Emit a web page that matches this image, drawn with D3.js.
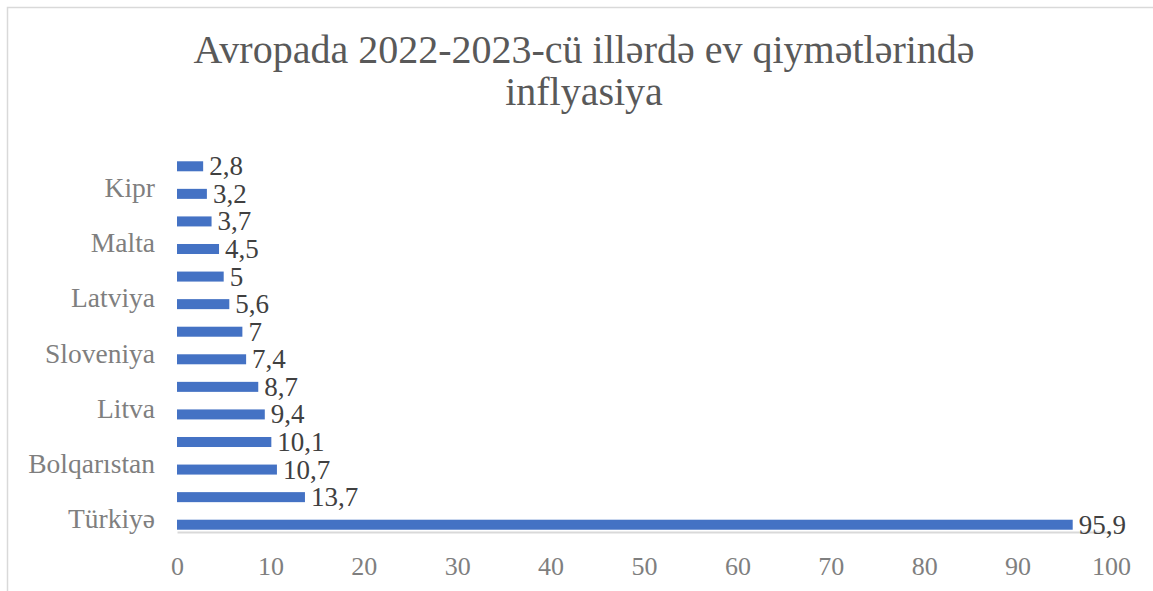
<!DOCTYPE html>
<html>
<head>
<meta charset="utf-8">
<script src="https://cdn.jsdelivr.net/npm/d3@7"></script>
<style>
  body { margin: 0; background: #fff; }
  text { font-family: "Liberation Serif", "Times New Roman", serif; }
</style>
</head>
<body>
<div id="chart"></div>
<script>
// Data (top of the chart to bottom)
const countries = ["Fransa", "Kipr", "Slovakiya", "Malta", "Yunanıstan", "Latviya", "Polşa",
  "Sloveniya", "Portuqaliya", "Litva", "Xorvatiya", "Bolqarıstan", "Macarıstan", "Türkiyə"];
const values = [2.8, 3.2, 3.7, 4.5, 5, 5.6, 7, 7.4, 8.7, 9.4, 10.1, 10.7, 13.7, 95.9];
// Only every other category label is shown on the axis
const shownLabels = ["Kipr", "Malta", "Latviya", "Sloveniya", "Litva", "Bolqarıstan", "Türkiyə"];
const xTicks = [0, 10, 20, 30, 40, 50, 60, 70, 80, 90, 100];
const titleLines = ["Avropada 2022-2023-cü illərdə ev qiymətlərində", "inflyasiya"];

const data = countries.map((c, i) => ({country: c, value: values[i]}));

const W = 1153, H = 591;
const svg = d3.select("#chart")
  .append("svg")
    .attr("width", W)
    .attr("height", H);

// Chart frame
svg.append("rect")
  .attr("x", 7.5).attr("y", 7.5)
  .attr("width", W + 10).attr("height", H + 10)
  .attr("fill", "#fff")
  .attr("stroke", "#d9d9d9")
  .attr("stroke-width", 1.5);

// Title
svg.append("text")
  .attr("text-anchor", "middle")
  .attr("fill", "#595959")
  .style("font-size", "40px")
  .selectAll("tspan")
  .data(titleLines)
  .enter()
  .append("tspan")
    .attr("x", 584)
    .attr("y", (d, i) => 63 + i * 42)
    .text(d => d);

// Scales
const x = d3.scaleLinear()
  .domain([0, 100])
  .range([177, 1111]);

const y = d3.scaleBand()
  .domain(countries)
  .range([152.5, 538.5])
  .paddingInner(0.637)
  .paddingOuter(0.3185);

const axisY = 532;

// X axis
const gx = svg.append("g")
  .attr("transform", `translate(0,${axisY})`)
  .call(d3.axisBottom(x).tickValues(xTicks).tickSize(0).tickFormat(d3.format("d")));
gx.select(".domain").attr("stroke", "#d9d9d9").attr("stroke-width", 2);
gx.selectAll("text")
  .attr("y", 43)
  .attr("dy", 0)
  .attr("fill", "#7f7f7f")
  .style("font-size", "26px")
  .style("font-family", "Liberation Serif, serif");

// Y axis (category labels)
const gy = svg.append("g")
  .attr("transform", "translate(177,0)")
  .call(d3.axisLeft(y).tickValues(shownLabels).tickSize(0).tickPadding(22));
gy.select(".domain").remove();
gy.selectAll("text")
  .attr("dy", "0.12em")
  .attr("fill", "#7f7f7f")
  .style("font-size", "27.5px")
  .style("font-family", "Liberation Serif, serif");

// Bars
svg.selectAll(".bar")
  .data(data)
  .enter()
  .append("rect")
    .attr("class", "bar")
    .attr("x", x(0))
    .attr("y", d => y(d.country))
    .attr("width", d => x(d.value) - x(0))
    .attr("height", y.bandwidth())
    .attr("fill", "#4472c4");

// Value labels (comma as decimal separator)
svg.selectAll(".label")
  .data(data)
  .enter()
  .append("text")
    .attr("class", "label")
    .attr("x", d => x(d.value) + 6)
    .attr("y", d => y(d.country) + y.bandwidth() / 2 + 9)
    .attr("fill", "#404040")
    .style("font-size", "27px")
    .text(d => String(d.value).replace(".", ","));
</script>
</body>
</html>
